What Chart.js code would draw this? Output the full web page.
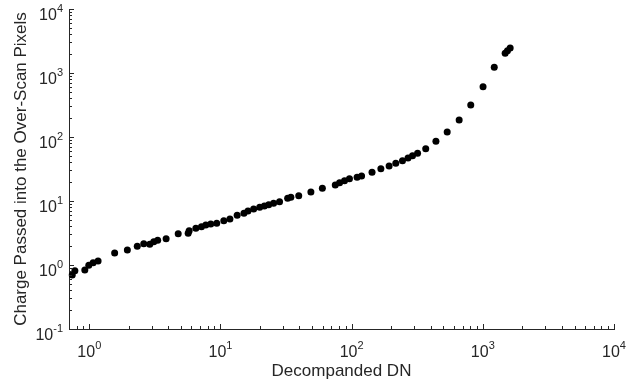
<!DOCTYPE html>
<html>
<head>
<meta charset="utf-8">
<script src="https://cdn.jsdelivr.net/npm/chart.js@4/dist/chart.umd.min.js"></script>
<style>
    html, body { margin: 0; padding: 0; background: #fff; }
    #wrap { width: 638px; height: 382px; }
</style>
</head>
<body>
<div id="wrap"><canvas id="cte_chart"></canvas></div>
<script>
// Decompanded DN vs. charge trailing into the over-scan pixels
var dnValues = [
    0.741, 0.776, 0.924, 0.991, 1.069, 1.166, 1.56, 1.95, 2.32, 2.60,
    2.89, 3.10, 3.32, 3.85, 4.76, 5.67, 5.77, 6.49, 7.16, 7.73,
    8.43, 9.36, 10.6, 11.8, 13.4, 15.1, 16.2, 17.9, 19.9, 21.6,
    23.3, 25.4, 28.2, 32.5, 34.4, 39.5, 48.9, 59.8, 75.0, 80.9,
    88.2, 96.2, 110, 119, 143, 167, 193, 217, 244, 269,
    291, 318, 367, 439, 535, 660, 809, 1004, 1222, 1480,
    1541, 1616
];
var chargeValues = [
    0.698, 0.815, 0.835, 0.99, 1.086, 1.155, 1.54, 1.71, 1.96, 2.15,
    2.11, 2.31, 2.43, 2.58, 3.08, 3.13, 3.44, 3.74, 3.97, 4.22,
    4.37, 4.48, 4.92, 5.23, 5.98, 6.43, 6.98, 7.50, 7.97, 8.36,
    8.75, 9.21, 9.75, 11.0, 11.4, 12.1, 13.8, 15.8, 17.8, 19.3,
    20.8, 22.3, 23.5, 24.6, 28.1, 32.0, 35.2, 38.8, 42.6, 47.0,
    51.0, 55.6, 65.7, 85.7, 120, 184, 316, 611, 1228, 2032,
    2230, 2459
];
var xDecades = [0, 1, 2, 3, 4];
var yDecades = [-1, 0, 1, 2, 3, 4];

var fontFamily = "'Liberation Sans', Arial, Helvetica, sans-serif";
var inkColor = '#262626';

// draws inward ticks and 10^n labels with a raised exponent
var logAxesPlugin = {
    id: 'logAxes',
    afterDraw: function (chart) {
        var ctx = chart.ctx;
        var xs = chart.scales.x;
        var ys = chart.scales.y;
        var area = chart.chartArea;
        ctx.save();
        ctx.strokeStyle = inkColor;
        ctx.lineWidth = 1;

        // x ticks along the bottom edge
        xDecades.concat([-1]).forEach(function (d) {
            for (var m = 1; m <= 9; m++) {
                var v = m * Math.pow(10, d);
                if (v < xs.min || v > xs.max) { continue; }
                var px = Math.round(xs.getPixelForValue(v)) + 0.5;
                var len = m === 1 ? 5 : 3;
                ctx.beginPath();
                ctx.moveTo(px, area.bottom);
                ctx.lineTo(px, area.bottom - len);
                ctx.stroke();
            }
        });
        // y ticks along the left edge
        yDecades.forEach(function (d) {
            for (var m = 1; m <= 9; m++) {
                var v = m * Math.pow(10, d);
                if (v < ys.min || v > ys.max) { continue; }
                var py = Math.round(ys.getPixelForValue(v)) + 0.5;
                var len = m === 1 ? 5 : 3;
                ctx.beginPath();
                ctx.moveTo(area.left, py);
                ctx.lineTo(area.left + len, py);
                ctx.stroke();
            }
        });

        ctx.fillStyle = inkColor;
        ctx.textBaseline = 'alphabetic';
        var mainFont = '16px ' + fontFamily;
        var supFont = '11px ' + fontFamily;

        xDecades.forEach(function (d) {
            var px = xs.getPixelForValue(Math.pow(10, d));
            var exp = String(d);
            ctx.font = mainFont;
            var wMain = ctx.measureText('10').width;
            ctx.font = supFont;
            var wSup = ctx.measureText(exp).width;
            var x0 = px - (wMain + wSup) / 2;
            ctx.textAlign = 'left';
            ctx.font = mainFont;
            ctx.fillText('10', x0, area.bottom + 28);
            ctx.font = supFont;
            ctx.fillText(exp, x0 + wMain, area.bottom + 20);
        });

        yDecades.forEach(function (d) {
            var py = ys.getPixelForValue(Math.pow(10, d));
            var exp = d < 0 ? '-' + String(-d) : String(d);
            ctx.font = supFont;
            var wSup = ctx.measureText(exp).width;
            var xr = area.left - 6;
            ctx.textAlign = 'right';
            ctx.fillText(exp, xr, py + 3);
            ctx.font = mainFont;
            ctx.fillText('10', xr - wSup, py + 11);
        });
        ctx.restore();
    }
};

var points = dnValues.map(function (x, i) { return { x: x, y: chargeValues[i] }; });

new Chart(document.getElementById('cte_chart'), {
    type: 'scatter',
    data: {
        datasets: [
            {
                data: points,
                backgroundColor: '#000',
                borderWidth: 0,
                pointRadius: 3.5,
                clip: false
            }
        ]
    },
    options: {
        responsive: true,
        maintainAspectRatio: false,
        animation: false,
        layout: { padding: { top: 9, right: 24, left: 0, bottom: 0 } },
        plugins: { legend: { display: false }, tooltip: { enabled: false } },
        scales: {
            x: {
                type: 'logarithmic',
                min: 0.737,
                max: 10000,
                grid: { display: false },
                border: { display: true, color: inkColor, width: 1 },
                ticks: { display: false },
                title: {
                    display: true,
                    text: 'Decompanded DN',
                    color: inkColor,
                    font: { family: fontFamily, size: 17 },
                    padding: { top: 2, bottom: 0 }
                },
                afterFit: function (scale) { scale.height = 53; }
            },
            y: {
                type: 'logarithmic',
                min: 0.1,
                max: 10000,
                grid: { display: false },
                border: { display: true, color: inkColor, width: 1 },
                ticks: { display: false },
                title: {
                    display: true,
                    text: 'Charge Passed into the Over-Scan Pixels',
                    color: inkColor,
                    font: { family: fontFamily, size: 17 },
                    padding: { top: 11, bottom: 0 }
                },
                afterFit: function (scale) { scale.width = 69; }
            }
        }
    },
    plugins: [logAxesPlugin]
});
</script>
</body>
</html>
